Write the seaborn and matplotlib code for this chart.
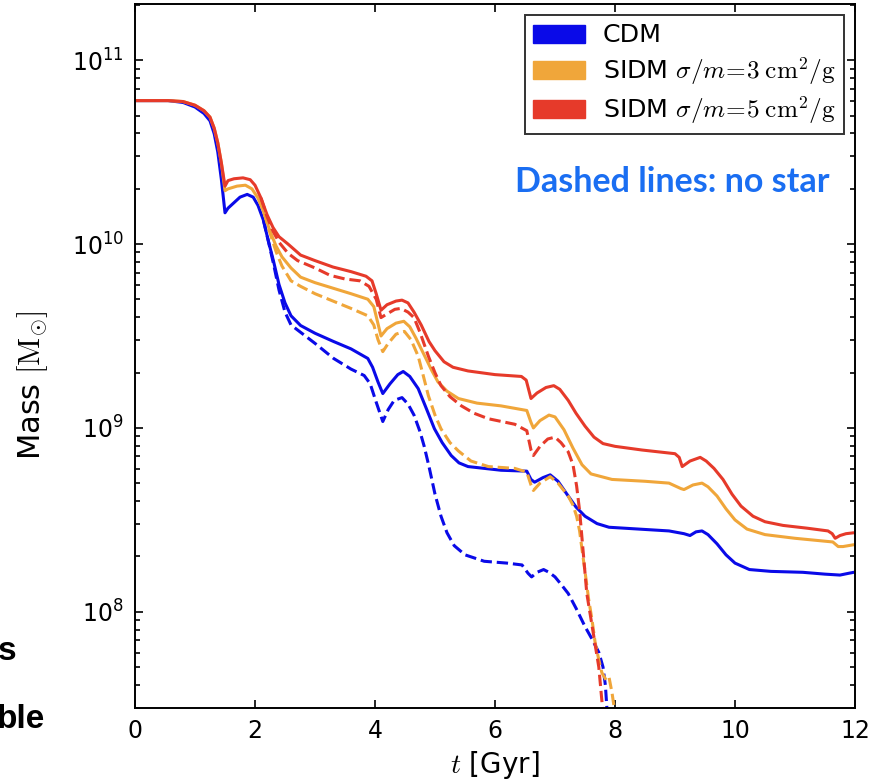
import numpy as np
import pandas as pd
import matplotlib
matplotlib.use("Agg")
import matplotlib.pyplot as plt
from matplotlib.patches import Patch
import seaborn as sns

# ---------------- data (time in Gyr, log10 of mass in Msun) ----------------
cdm_t = [0, 0.55, 0.8, 1.0, 1.15, 1.25, 1.32, 1.38, 1.44, 1.5, 1.55, 1.65, 1.75, 1.87, 1.97,
         2.05, 2.14, 2.22, 2.31, 2.4, 2.5, 2.6, 2.76, 3.0, 3.31, 3.6, 3.88, 3.96, 4.05, 4.13,
         4.25, 4.38, 4.47, 4.58, 4.72, 4.85, 4.99, 5.12, 5.27, 5.4, 5.55, 6.1, 6.53, 6.6,
         6.66, 6.8, 6.92, 7.05, 7.22, 7.35, 7.5, 7.7, 7.9, 8.9, 9.15, 9.25, 9.35, 9.45, 9.55,
         9.7, 9.85, 10.0, 10.24, 10.6, 11.13, 11.5, 11.75, 11.9, 11.98]
cdm_m = [10.78, 10.78, 10.77, 10.745, 10.71, 10.67, 10.60, 10.50, 10.35, 10.17, 10.195,
         10.225, 10.255, 10.27, 10.255, 10.21, 10.13, 10.02, 9.905, 9.78, 9.68, 9.61, 9.557,
         9.515, 9.47, 9.43, 9.378, 9.33, 9.25, 9.187, 9.24, 9.29, 9.307, 9.28, 9.214, 9.11,
         8.996, 8.92, 8.85, 8.81, 8.79, 8.77, 8.765, 8.72, 8.705, 8.73, 8.745, 8.71, 8.63,
         8.57, 8.52, 8.48, 8.46, 8.44, 8.425, 8.415, 8.435, 8.44, 8.42, 8.37, 8.31, 8.265,
         8.23, 8.22, 8.215, 8.205, 8.20, 8.21, 8.215]

s3_t = [0, 0.55, 0.8, 1.0, 1.15, 1.25, 1.32, 1.38, 1.44, 1.5, 1.55, 1.7, 1.84, 1.95, 2.05,
        2.15, 2.25, 2.35, 2.45, 2.6, 2.76, 3.0, 3.3, 3.6, 3.88, 3.98, 4.04, 4.1, 4.2, 4.35,
        4.48, 4.58, 4.68, 4.8, 4.95, 5.05, 5.2, 5.39, 5.7, 6.1, 6.53, 6.6, 6.64, 6.75, 6.9,
        7.0, 7.15, 7.3, 7.45, 7.6, 7.95, 8.5, 8.9, 9.1, 9.15, 9.3, 9.45, 9.55, 9.7, 9.85,
        10.0, 10.2, 10.5, 11.0, 11.63, 11.72, 11.8, 11.98]
s3_m = [10.78, 10.78, 10.775, 10.755, 10.725, 10.69, 10.63, 10.55, 10.44, 10.29, 10.30,
        10.315, 10.32, 10.30, 10.25, 10.17, 10.07, 9.99, 9.93, 9.87, 9.82, 9.79, 9.76, 9.73,
        9.70, 9.66, 9.58, 9.50, 9.54, 9.57, 9.58, 9.55, 9.49, 9.41, 9.31, 9.25, 9.20, 9.16,
        9.135, 9.12, 9.095, 9.03, 9.00, 9.04, 9.07, 9.06, 8.99, 8.89, 8.80, 8.75, 8.72,
        8.71, 8.70, 8.67, 8.665, 8.69, 8.70, 8.68, 8.63, 8.56, 8.50, 8.45, 8.42, 8.40, 8.38,
        8.355, 8.355, 8.365]

s5_t = [0, 0.55, 0.8, 1.0, 1.15, 1.25, 1.32, 1.38, 1.44, 1.5, 1.55, 1.65, 1.8, 1.92, 2.0,
        2.1, 2.2, 2.3, 2.4, 2.55, 2.76, 3.0, 3.3, 3.6, 3.85, 3.95, 4.02, 4.1, 4.2, 4.35,
        4.45, 4.55, 4.65, 4.77, 4.9, 5.0, 5.15, 5.3, 5.55, 6.0, 6.44, 6.52, 6.6, 6.7, 6.85,
        6.98, 7.08, 7.22, 7.35, 7.5, 7.65, 7.8, 8.0, 8.45, 9.0, 9.07, 9.12, 9.25, 9.42,
        9.52, 9.65, 9.8, 9.95, 10.1, 10.3, 10.5, 10.8, 11.2, 11.55, 11.62, 11.67, 11.75,
        11.85, 11.98]
s5_m = [10.78, 10.78, 10.775, 10.755, 10.725, 10.69, 10.63, 10.55, 10.44, 10.315, 10.345,
        10.355, 10.36, 10.35, 10.32, 10.25, 10.16, 10.09, 10.04, 10.0, 9.94, 9.91, 9.875,
        9.85, 9.825, 9.80, 9.73, 9.64, 9.67, 9.69, 9.695, 9.68, 9.63, 9.56, 9.47, 9.42,
        9.36, 9.33, 9.31, 9.29, 9.28, 9.26, 9.16, 9.19, 9.22, 9.23, 9.21, 9.15, 9.08, 9.01,
        8.95, 8.915, 8.90, 8.88, 8.86, 8.84, 8.79, 8.82, 8.84, 8.82, 8.78, 8.72, 8.64,
        8.575, 8.52, 8.49, 8.47, 8.455, 8.44, 8.425, 8.40, 8.415, 8.425, 8.43]

# no-star runs (dashed)
cdm_ns_t = [2.14, 2.22, 2.31, 2.4, 2.5, 2.6, 2.76, 3.0, 3.31, 3.6, 3.82, 3.92, 4.02, 4.13,
            4.22, 4.32, 4.45, 4.55, 4.65, 4.75, 4.82, 4.9, 5.0, 5.1, 5.2, 5.32, 5.5, 5.82,
            6.2, 6.45, 6.55, 6.61, 6.7, 6.81, 6.9, 7.0, 7.1, 7.22, 7.35, 7.5, 7.62, 7.73,
            7.8, 7.84, 7.87]
cdm_ns_m = [10.13, 10.02, 9.89, 9.75, 9.63, 9.56, 9.52, 9.46, 9.378, 9.32, 9.285, 9.24,
            9.14, 9.035, 9.10, 9.15, 9.165, 9.13, 9.07, 8.98, 8.90, 8.79, 8.64, 8.52, 8.43,
            8.36, 8.31, 8.275, 8.265, 8.255, 8.21, 8.19, 8.215, 8.23, 8.215, 8.19, 8.15,
            8.10, 8.02, 7.92, 7.85, 7.78, 7.70, 7.60, 7.45]

s3_ns_t = [2.15, 2.25, 2.35, 2.45, 2.6, 2.76, 3.0, 3.3, 3.6, 3.88, 3.98, 4.05, 4.13, 4.22,
           4.35, 4.49, 4.6, 4.72, 4.8, 4.89, 5.0, 5.1, 5.25, 5.39, 5.6, 5.89, 6.33, 6.53,
           6.6, 6.64, 6.75, 6.92, 7.05, 7.22, 7.3, 7.36, 7.41, 7.45, 7.5, 7.56, 7.62, 7.67,
           7.73, 7.78, 7.85, 7.9, 7.95, 8.0]
s3_ns_m = [10.17, 10.06, 9.96, 9.88, 9.80, 9.77, 9.73, 9.69, 9.65, 9.61, 9.56, 9.48,
           9.415, 9.46, 9.51, 9.525, 9.48, 9.39, 9.29, 9.175, 9.07, 8.995, 8.92, 8.875,
           8.82, 8.79, 8.78, 8.76, 8.69, 8.66, 8.70, 8.735, 8.70, 8.63, 8.58, 8.52, 8.44,
           8.34, 8.22, 8.07, 7.95, 7.83, 7.74, 7.67, 7.63, 7.645, 7.56, 7.45]

s5_ns_t = [2.1, 2.2, 2.3, 2.4, 2.55, 2.71, 3.0, 3.25, 3.5, 3.75, 3.9, 4.02, 4.1, 4.2, 4.33,
           4.43, 4.55, 4.65, 4.75, 4.89, 5.0, 5.1, 5.25, 5.44, 5.65, 5.89, 6.33, 6.53, 6.6,
           6.64, 6.75, 6.88, 7.0, 7.1, 7.22, 7.3, 7.36, 7.41, 7.45, 7.53, 7.62, 7.68, 7.73,
           7.8]
s5_ns_m = [10.25, 10.15, 10.07, 10.01, 9.95, 9.91, 9.87, 9.83, 9.81, 9.80, 9.77, 9.70,
           9.60, 9.62, 9.645, 9.65, 9.63, 9.60, 9.52, 9.39, 9.30, 9.23, 9.17, 9.12, 9.08,
           9.05, 9.02, 8.985, 8.88, 8.85, 8.90, 8.94, 8.95, 8.92, 8.87, 8.80, 8.685, 8.55,
           8.40, 8.10, 7.92, 7.80, 7.70, 7.45]

labels = ["CDM",
          r"SIDM $\sigma/m\!=\!3\;\mathrm{cm^2/g}$",
          r"SIDM $\sigma/m\!=\!5\;\mathrm{cm^2/g}$"]
colors = ["#0a0ae8", "#f0a63a", "#e63a2a"]
x_ticks = [0, 2, 4, 6, 8, 10, 12]

# ---------------- style ----------------
sns.set_theme(style="ticks")
plt.rcParams["font.family"] = ["DejaVu Sans"]
plt.rcParams["mathtext.fontset"] = "cm"
for k in ["text.color", "axes.labelcolor", "xtick.color", "ytick.color", "axes.edgecolor"]:
    plt.rcParams[k] = "black"

fig = plt.figure(figsize=(8.82, 7.83), dpi=100)
ax = fig.add_axes([135 / 882, 1 - 708 / 783, (855 - 135) / 882, (708 - 4) / 783])

solid = [(cdm_t, cdm_m), (s3_t, s3_m), (s5_t, s5_m)]
dashed = [(cdm_ns_t, cdm_ns_m), (s3_ns_t, s3_ns_m), (s5_ns_t, s5_ns_m)]

for (t, m), c in zip(solid, colors):
    df = pd.DataFrame({"t": t, "mass": np.power(10.0, m)})
    sns.lineplot(data=df, x="t", y="mass", ax=ax, color=c, lw=2.2,
                 estimator=None, sort=False, legend=False)
for (t, m), c in zip(dashed, colors):
    df = pd.DataFrame({"t": t, "mass": np.power(10.0, m)})
    sns.lineplot(data=df, x="t", y="mass", ax=ax, color=c, lw=2.2,
                 estimator=None, sort=False, legend=False, linestyle="--")

ax.set_yscale("log")
ax.set_xlim(0, 12)
ax.set_ylim(3.0e7, 2.02e11)
ax.set_xticks(x_ticks)
ax.set_xticklabels([str(v) for v in x_ticks])

ax.tick_params(which="both", direction="in", top=True, right=True,
               labelsize=17, colors="black", width=1.2, pad=8)
ax.tick_params(which="major", length=6)
ax.tick_params(which="minor", length=3.5)
ax.tick_params(axis="x", which="minor", bottom=False, top=False)
for sp in ax.spines.values():
    sp.set_linewidth(1.4)
    sp.set_color("black")
    sp.set_visible(True)

ax.set_xlabel(r"$t$ [Gyr]", fontsize=20, labelpad=4)
ax.set_ylabel(r"Mass $[\mathrm{M_{\odot}}]$", fontsize=22)
ax.yaxis.set_label_coords(-0.118, 0.459)

handles = [Patch(facecolor=c, edgecolor=c) for c in colors]
leg = ax.legend(handles, labels, loc="upper right", fontsize=18.2,
                frameon=True, fancybox=False, edgecolor="black",
                handlelength=2.05, handleheight=0.72, handletextpad=0.7,
                labelspacing=0.28, borderpad=0.32, borderaxespad=0.45)
leg.get_frame().set_linewidth(1.4)

ax.text(0.965, 0.747, "Dashed lines: no star", transform=ax.transAxes,
        ha="right", va="center", fontsize=24.5, fontweight="bold",
        color="#1a6ef2", family=["Lato", "DejaVu Sans"])

# cut-off slide text at left margin
fig.text(16 / 882, 1 - 652 / 783, "s", ha="right", va="center", fontsize=24,
         fontweight="bold", color="black", family=["Liberation Sans", "DejaVu Sans"])
fig.text(45 / 882, 1 - 720 / 783, "ble", ha="right", va="center", fontsize=24,
         fontweight="bold", color="black", family=["Liberation Sans", "DejaVu Sans"])

fig.savefig("out.png", dpi=100, facecolor="white")
